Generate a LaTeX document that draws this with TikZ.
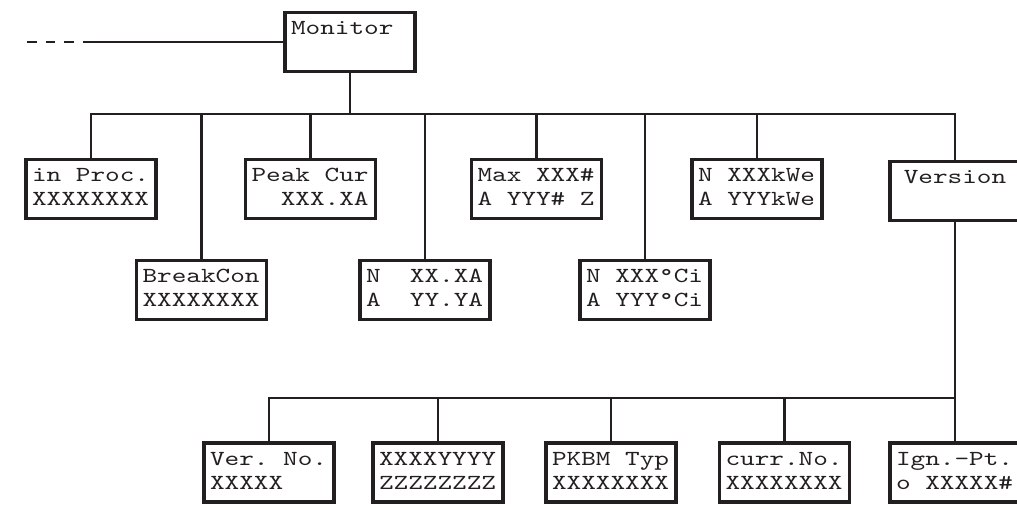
\documentclass[tikz,border=0pt]{standalone}
\usepackage{fontspec}
\newfontfamily\cour{lmmono10-regular.otf}[FakeStretch=1.3]
\definecolor{ink}{RGB}{35,31,32}
\newcommand\monosp{\spaceskip=\fontcharwd\font 88\relax\xspaceskip=\spaceskip}
\newcommand\twol[2]{\monosp\strut #1\\\strut #2}
\tikzset{
  box/.style={draw=ink, line width=3.2pt, inner xsep=6pt, inner ysep=0pt,
    minimum height=59pt, text width=118pt, align=left, text=ink,
    font=\cour\fontsize{21.45}{24}\selectfont},
  wire/.style={draw=ink, line width=2.8pt},
  lead/.style={draw=ink, line width=2.8pt, dash pattern=on 9.5pt off 9pt},
}
\begin{document}
\begin{tikzpicture}[x=1pt,y=-1pt]
\useasboundingbox (0,0) rectangle (1017,505);
\clip (0,0) rectangle (1017,505);
% nodes
\node[box] (mon) at (350,42) {\twol{Monitor}{}};
\node[box] (inproc) at (91,189) {\twol{in Proc.}{XXXXXXXX}};
\node[box] (peak) at (310.5,189) {\twol{Peak Cur}{\hphantom{XX}XXX.XA}};
\node[box] (maxn) at (536.5,189) {\twol{Max XXX\#}{A YYY\# Z}};
\node[box] (kwe) at (757,189) {\twol{N XXXkWe}{A YYYkWe}};
\node[box, align=center] (vers) at (955,191) {\twol{Version}{}};
\node[box] (brk) at (201.5,290) {\twol{BreakCon}{XXXXXXXX}};
\node[box] (nxx) at (425,290) {\twol{N\hphantom{XX}XX.XA}{A\hphantom{XX}YY.YA}};
\node[box] (ci) at (645,290) {\twol{N XXX°Ci}{A YYY°Ci}};
\node[box] (verno) at (269,472.5) {\twol{Ver. No.}{XXXXX}};
\node[box] (xy) at (438,472.5) {\twol{XXXXYYYY}{ZZZZZZZZ}};
\node[box] (pkbm) at (611,472.5) {\twol{PKBM Typ}{XXXXXXXX}};
\node[box] (curr) at (784.5,472.5) {\twol{curr.No.}{XXXXXXXX}};
\node[box] (ign) at (955,472.5) {\twol{Ign.-Pt.}{o XXXXX\#}};
% coordinates
\coordinate (b1) at (0,114);
\coordinate (b2) at (0,398);
\coordinate (lstart) at (27,42);
\coordinate (lmid) at (84,42);
% lead-in line
\draw[lead] (lstart) -- (lmid);
\draw[wire] (lmid) -- (mon.west);
% top bus
\draw[wire] (mon.south) -- (mon.south |- b1);
\draw[wire] (inproc.north) -- (inproc.north |- b1) -- (vers.north |- b1) -- (vers.north);
\foreach \n in {brk,peak,nxx,maxn,ci,kwe}
  \draw[wire] (\n.north) -- (\n.north |- b1);
% bottom bus
\draw[wire] (vers.south) -- (ign.north);
\draw[wire] (verno.north) -- (verno.north |- b2) -- (ign.north |- b2);
\foreach \n in {xy,pkbm,curr}
  \draw[wire] (\n.north) -- (\n.north |- b2);
\end{tikzpicture}
\end{document}
